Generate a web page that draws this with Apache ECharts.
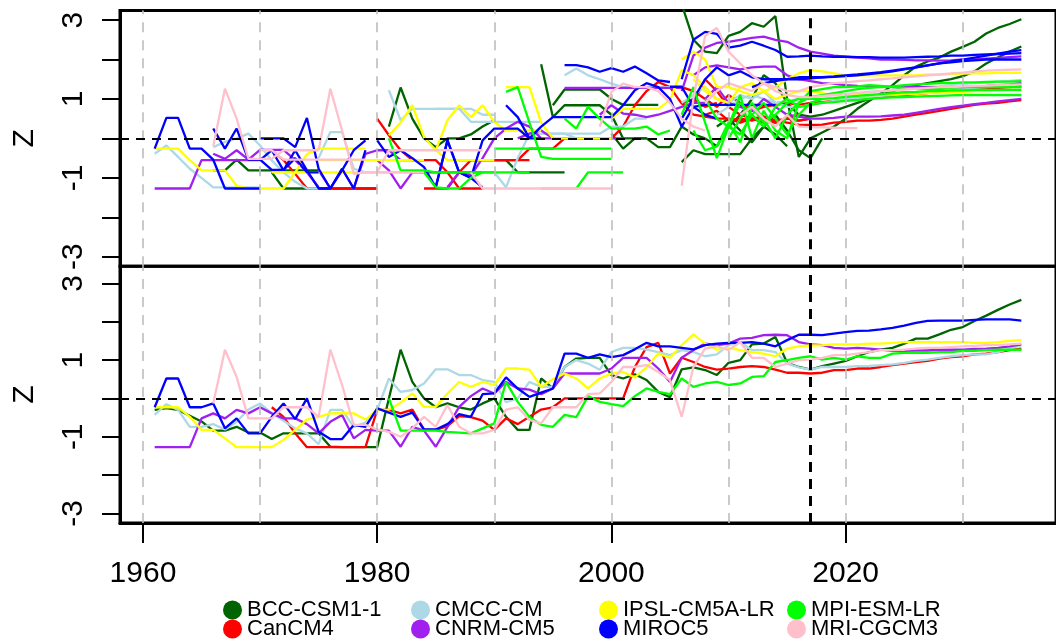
<!DOCTYPE html>
<html>
<head>
<meta charset="utf-8">
<script src="https://cdn.jsdelivr.net/npm/echarts@6/dist/echarts.min.js"></script>
<style>
  html, body { margin: 0; padding: 0; background: #ffffff; }
  #chart { width: 1056px; height: 641px; }
</style>
</head>
<body>
<div id="chart"></div>
<script>
// ---------- labels and ticks ----------
const models = ['BCC-CSM1-1', 'CanCM4', 'CMCC-CM', 'CNRM-CM5', 'IPSL-CM5A-LR', 'MIROC5', 'MPI-ESM-LR', 'MRI-CGCM3'];
const modelColors = ['#006400', '#ff0000', '#add8e6', '#a020f0', '#ffff00', '#0000ff', '#00ff00', '#ffc0cb'];
const xTickLabels = [1960, 1980, 2000, 2020];
const yTickValues = [-3, -2, -1, 0, 1, 2, 3];
const yTickLabels = [-3, -1, 1, 3];
const decadeLines = [1960, 1970, 1980, 1990, 2000, 2010, 2020, 2030];
const forecastYear = 2017;
const yAxisTitle = 'Z';

// ---------- upper panel: individual forecast runs, [start year, yearly values] ----------
const bccRuns = [
  [1966, [-0.81, -0.81, -0.54, -0.81, -0.81, -0.81, -0.81, -0.81, -0.81, -0.81]],
  [1971, [-0.86, -1.27, -1.27, -1.27, -1.27, -1.27, -1.27, -1.27, -1.27, -1.27]],
  [1981, [0.3, 1.29, 0.5, 0.0, -0.22, 0.0, 0.0, 0.1, 0.3, 0.46]],
  [1987, [-0.55, -0.55, -0.55, -0.55, -0.55, -0.86, -0.86, -0.86, -0.86, -0.86]],
  [1994, [1.88, 0.54, 0.84, 0.84, 0.84, 0.84, 0.6, 0.0, 0.0, 0.0]],
  [1995, [0.84, 1.24, 1.24, 1.24, 1.24, 1.0, 0.85, 0.85, 0.85, 0.85]],
  [2000, [0.12, -0.26, 0.0, 0.0, -0.22, -0.22, 0.3, 0.1, 0.0]],
  [2006, [-0.6, -0.3, -0.4, -0.4, -0.4, -0.4, 0.0, 0.3, 0.1, -0.2]],
  [2009, [0.3, 0.5, 0.2, -0.1, 0.3, 0.6, 0.2, -0.3, -0.5, 0.0]],
  [2006, [3.4, 2.5, 2.2, 2.16, 2.6, 2.7, 2.92, 2.83, 3.1, 1.0, -0.47, 0.0, 0.15, 0.3, 0.5, 0.75, 0.95, 1.14, 1.35, 1.6, 1.82, 1.95, 2.05, 2.2, 2.32, 2.45, 2.66, 2.8, 2.9, 3.02]],
  [2008, [0.0, -0.2, 0.3, 0.6, 1.0, 1.6, 1.4, 0.9, 0.6, 0.55, 0.6, 0.7, 0.8, 0.9, 1.0, 1.1, 1.2, 1.28, 1.35, 1.4, 1.45, 1.5, 1.58, 1.7, 1.9, 2.05, 2.2, 2.33]]
];
const canRuns = [
  [1971, [-0.3, -0.55, -0.9, -1.27, -1.27, -1.27, -1.27, -1.27, -1.27, -1.27]],
  [1980, [0.5, 0.08, -0.3, -0.55, -0.55, -0.55, -0.86, -1.27, -1.27, -1.27]],
  [1984, [-1.27, -1.27, -1.27, -0.86, -0.55, -0.55, -0.55, -0.55, -0.55, -0.55]],
  [1990, [-0.55, -0.55, -0.55, -0.26, -0.26, -0.26, 0.0, 0.0, 0.0, 0.0]],
  [2000, [0.0, 0.3, 0.84, 1.2, 1.43, 1.3, 0.88, 1.0, 0.8, 0.9]],
  [2007, [0.9, 1.5, 1.2, 0.8, 0.6, 0.5, 0.55, 0.45, 0.5, 0.6]],
  [2008, [0.6, 0.7, 0.45, 0.5, 0.45, 0.55, 0.4, 0.5, 0.45, 0.5]],
  [2010, [0.5, 0.4, 0.5, 0.45, 0.4, 0.5, 0.45, 0.5]],
  [2006, [1.3, 1.2, 1.0, 0.8, 1.1, 0.9, 0.7, 0.8, 0.85, 0.9, 0.85, 0.9, 0.92, 0.95, 0.97, 1.0, 1.02, 1.05, 1.08, 1.1, 1.12, 1.15, 1.18, 1.2, 1.22, 1.24, 1.26, 1.28, 1.3, 1.32]],
  [2006, [0.9, 0.6, 0.55, 0.5, 0.5, 0.45, 0.5, 0.4, 0.45, 0.4, 0.35, 0.34, 0.35, 0.4, 0.42, 0.45, 0.45, 0.47, 0.5, 0.55, 0.6, 0.65, 0.7, 0.75, 0.8, 0.85, 0.88, 0.9, 0.94, 0.97]]
];
const cmccRuns = [
  [1961, [-0.39, -0.18, -0.47, -0.77, -1.0, -1.24, -1.24, -1.24, -1.24, -1.24]],
  [1966, [-0.22, -0.09, 0.0, 0.12, -0.18, -0.56, -0.86, -1.1, -1.27, -1.27]],
  [1975, [-0.5, 0.16, 0.16, -0.77, -0.86, -0.86, -0.86, -0.86, -0.86, -0.86]],
  [1981, [1.22, 0.46, 0.75, 0.75, 0.75, 0.75, 0.75, 0.75, 0.6, 0.6]],
  [1985, [0.75, 0.75, 0.75, 0.42, 0.42, 0.42, 0.42, 0.42, 0.42, 0.42]],
  [1990, [-0.86, -1.24, -0.5, 0.12, 0.12, 0.12, 0.12, 0.0, 0.0, 0.0]],
  [1994, [0.12, 0.12, 0.12, 0.12, 0.12, 0.12, 0.3, 0.3, 0.5, 0.5]],
  [1996, [1.6, 1.77, 1.6, 1.5, 1.39, 1.3, 1.3, 1.3, 1.3, 1.3]],
  [2006, [0.9, 1.1, 1.3, 1.0, 0.9, 1.1, 1.0, 1.2, 0.9, 0.8, 0.8, 0.85, 0.9, 0.95, 1.0, 1.02, 1.05, 1.08, 1.1, 1.12, 1.15, 1.18, 1.2, 1.22, 1.25, 1.28, 1.3, 1.33, 1.36, 1.4]],
  [2009, [0.6, 0.8, 1.0, 1.1, 1.0, 0.9, 0.95, 1.0, 1.05, 1.08, 1.1, 1.12, 1.15, 1.18, 1.2, 1.22, 1.25, 1.28, 1.3, 1.32, 1.35, 1.38, 1.4, 1.42, 1.44, 1.46, 1.48]]
];
const cnrmRuns = [
  [1961, [-1.27, -1.27, -1.27, -1.27, -0.55, -0.55, -0.55, -0.55, -0.55, -0.55]],
  [1966, [-0.39, -0.52, -0.3, -0.54, -0.29, -0.29, -0.29, -0.55, -0.86, -1.24]],
  [1975, [-0.81, -1.27, -0.77, -1.27, -0.39, -0.3, -0.3, -0.55, -0.55, -0.55]],
  [1980, [-0.55, -0.81, -1.27, -0.86, -0.86, -0.86, -0.86, -0.86, -0.86, -0.86]],
  [1986, [-1.24, -0.86, -0.94, -0.5, 0.0, 0.25, 0.42, 0.3, 0.0, 0.0]],
  [1992, [0.0, 0.12, 0.2, 0.0, 0.0, 0.0, 0.0, 0.0, 0.0, 0.0]],
  [1996, [1.28, 1.28, 1.28, 1.28, 1.28, 1.28, 1.28, 1.28, 1.28, 1.28, 1.28]],
  [1999, [0.6, 0.84, 0.63, 0.6, 0.54, 0.6, 0.7, 0.8, 0.9, 0.9]],
  [2006, [1.2, 2.1, 2.3, 2.42, 2.45, 2.5, 2.55, 2.58, 2.5, 2.45, 2.3, 2.2, 2.15, 2.1, 2.07, 2.05, 2.03, 2.0, 2.0, 1.99, 1.98, 1.98, 1.97, 1.98, 2.0, 2.0, 2.02, 2.04, 2.06, 2.08]],
  [2008, [1.0, 1.3, 0.9, 0.8, 0.7, 1.0, 0.8, 0.6, 0.55, 0.5, 0.5, 0.52, 0.55, 0.55, 0.55, 0.56, 0.58, 0.6, 0.65, 0.7, 0.75, 0.79, 0.83, 0.87, 0.9, 0.94, 0.97, 1.0]],
  [2007, [1.6, 1.8, 1.85, 1.8, 1.75, 1.8, 1.82, 1.82, 1.6, 1.5, 1.45, 1.4, 1.38, 1.35, 1.33, 1.32, 1.32, 1.3, 1.3, 1.3, 1.3, 1.3, 1.3, 1.3, 1.32, 1.33, 1.35, 1.37, 1.4]]
];
const ipslRuns = [
  [1961, [-0.26, -0.26, -0.26, -0.55, -0.81, -0.81, -0.81, -1.2, -1.27, -1.27]],
  [1970, [-1.27, -1.27, -1.27, -0.86, -0.4, -0.26, -0.26, -0.26, -0.26, -0.26]],
  [1971, [-0.86, -0.86, -0.86, -0.86, -0.86, -0.86, -0.86, -0.86, -0.86, -0.86]],
  [1975, [-0.55, -0.55, -0.55, -0.55, -0.55, -0.55, -0.55, -0.55, -0.55, -0.55]],
  [1981, [0.08, 0.4, 0.84, 0.03, -0.3, -0.55, -0.55, -0.55, -0.55, -0.55]],
  [1985, [-0.3, 0.46, 0.84, 0.54, 0.84, 0.42, 0.2, 0.2, 0.2, 0.2]],
  [1991, [1.3, 1.3, 1.3, 0.4, 0.0, 0.0, 0.0, 0.0, 0.0, 0.0]],
  [2000, [0.5, 0.75, 0.75, 0.75, 0.75, 0.97, 1.73, 1.6, 1.3, 1.0]],
  [2006, [2.0, 2.2, 2.0, 1.3, 1.3, 1.2, 1.1, 1.2, 1.3, 1.5, 1.65, 1.73, 1.7, 1.65, 1.6, 1.6, 1.6, 1.6, 1.6, 1.6, 1.6, 1.62, 1.62, 1.63, 1.64, 1.65, 1.65, 1.66, 1.66, 1.66]],
  [2007, [1.5, 1.2, 1.0, 0.9, 1.3, 1.4, 1.2, 1.0, 1.1, 1.2, 1.2, 1.15, 1.1, 1.1, 1.1, 1.1, 1.1, 1.12, 1.12, 1.13, 1.15, 1.15, 1.17, 1.18, 1.2, 1.2, 1.22, 1.23, 1.23]]
];
const mirocRuns = [
  [1961, [-0.26, 0.52, 0.52, -0.26, -0.26, -0.54, -1.27, -1.27, -1.27, -1.27]],
  [1966, [0.25, -0.26, 0.25, -0.54, -0.54, -0.8, -0.8, -0.5, -0.86, -0.86]],
  [1970, [0.0, 0.0, 0.0, -0.22, 0.52, -0.77, -1.27, -0.77, -1.27, -0.3]],
  [1970, [-0.55, -0.3, -0.81, -0.3, -0.81, -1.27, -1.27, -0.81, -0.3, -0.05]],
  [1980, [-0.05, -0.47, -0.3, -0.5, -0.73, -1.24, -0.05, -0.86, -1.0, -1.24]],
  [1985, [-1.24, -0.05, -0.86, -1.0, -0.05, 0.25, 0.25, 0.25, 0.0, 0.0]],
  [1991, [0.84, 0.54, 0.0, 0.3, 0.54, 0.54, 0.54, 0.54, 0.54, 0.54]],
  [1996, [1.86, 1.86, 1.8, 1.69, 1.78, 1.69, 1.82, 1.65, 1.47, 1.43]],
  [2000, [0.54, 0.84, 1.22, 1.4, 1.3, 1.0, 0.3, 0.8, 0.6, 0.5]],
  [2005, [1.31, 1.31, 0.8, 0.85, 0.85, 0.85, 0.85, 0.85, 0.85, 0.85]],
  [2006, [1.5, 2.5, 2.7, 2.65, 2.3, 2.35, 2.45, 2.35, 2.24, 2.07, 2.08, 2.1, 2.08, 2.07, 2.07, 2.06, 2.06, 2.05, 2.05, 2.05, 2.06, 2.07, 2.08, 2.1, 2.1, 2.12, 2.13, 2.14, 2.15, 2.16]],
  [2006, [0.5, 1.0, 1.5, 1.8, 1.6, 1.7, 1.55, 1.5, 1.5, 1.5, 1.55, 1.55, 1.55, 1.56, 1.58, 1.6, 1.63, 1.66, 1.7, 1.75, 1.8, 1.85, 1.9, 1.95, 2.0, 2.05, 2.1, 2.15, 2.2, 2.24]],
  [2012, [1.3, 1.4, 1.45, 1.5, 1.5, 1.52, 1.55, 1.57, 1.6, 1.62, 1.65, 1.68, 1.72, 1.76, 1.8, 1.85, 1.9, 1.93, 1.96, 1.98, 2.0, 2.0, 2.0, 2.0]]
];
const mpiRuns = [
  [1981, [0.0, -0.81, -0.81, -0.81, -0.86, -0.86, -0.86, -0.86, -0.86, -0.86]],
  [1984, [-0.86, -1.24, -1.27, -1.27, -1.0, -0.86, -0.86, -0.86, -0.86, -0.86]],
  [1990, [-0.26, -0.26, -0.26, -0.26, -0.26, -0.26, -0.26, -0.26, -0.26, -0.26, -0.26]],
  [1991, [1.18, 1.3, 0.4, -0.47, -0.52, -0.52, -0.52, -0.52, -0.52, -0.52]],
  [1994, [-1.27, -1.27, -1.27, -1.27, -0.86, -0.86, -0.86, -0.86]],
  [1996, [0.5, 0.25, 0.8, 0.5, 0.25, 0.25, 0.25, 0.3, 0.1, 0.2]],
  [2009, [-0.2, 0.3, 0.1, 0.6, 0.9, 0.5, 0.1, 0.6, 0.9, 1.0]],
  [2006, [0.6, 1.3, 0.4, -0.5, 0.3, 1.1, 0.0, 0.7, 0.2, 0.0, 0.9, 1.05, 1.1, 1.15, 1.2, 1.25, 1.28, 1.3, 1.32, 1.35, 1.37, 1.38, 1.4, 1.4, 1.42, 1.42, 1.43, 1.44, 1.44, 1.45]],
  [2007, [0.2, -0.3, -0.2, 0.4, -0.1, 0.8, 0.4, 0.6, 0.9, 1.0, 1.0, 1.0, 1.02, 1.05, 1.08, 1.1, 1.12, 1.15, 1.17, 1.18, 1.2, 1.2, 1.22, 1.22, 1.23, 1.23, 1.23, 1.23, 1.23]],
  [2008, [1.0, 0.5, 0.3, 0.9, 0.6, 0.3, 0.8, 1.0, 0.8, 0.85, 0.9, 0.92, 0.95, 0.97, 1.0, 1.02, 1.04, 1.05, 1.06, 1.07, 1.08, 1.09, 1.1, 1.1, 1.1, 1.1, 1.1, 1.1]],
  [2010, [0.0, 0.5, 0.9, 0.5, 0.0, 0.6, 0.9, 1.2, 1.25, 1.3, 1.3, 1.32, 1.35, 1.33, 1.3, 1.28, 1.27, 1.25, 1.25, 1.28, 1.3, 1.3, 1.3, 1.3, 1.3, 1.3]]
];
const mriRuns = [
  [1966, [-0.2, 1.26, 0.5, -0.52, -0.52, -0.52, -0.3, -0.3, -0.3, -0.3]],
  [1970, [-0.3, -0.3, -0.54, -0.54, -0.54, -0.54, -0.54, -0.54, -0.54, -0.54]],
  [1975, [-0.3, 1.26, 0.2, -0.9, -0.86, -0.86, -0.86, -0.86, -0.86, -0.86]],
  [1980, [-0.86, -0.3, -0.3, -0.3, -0.3, -0.3, -0.3, -0.3, -0.3, -0.3]],
  [1988, [-0.86, -1.27, -1.27, -1.27, -1.27, -1.27, -1.27, -1.27, -1.27, -1.27]],
  [1994, [-1.27, -1.27, -1.27, -1.27, -1.27, -1.27, -1.27]],
  [1999, [0.3, 1.18, 1.39, 1.3, 1.3, 1.2, 0.9, 0.5, 0.3, 0.2]],
  [2006, [-1.2, 1.0, 2.6, 2.8, 2.2, 1.9, 1.6, 1.4, 1.3, 1.2, 1.2, 1.3, 1.35, 1.4, 1.42, 1.45, 1.47, 1.5, 1.52, 1.55, 1.57, 1.6, 1.62, 1.65, 1.67, 1.7, 1.72, 1.73, 1.74, 1.75]],
  [2011, [0.6, 0.8, 0.5, 0.3, 0.6, 0.3, 0.28, 0.28, 0.27, 0.26, 0.26]],
  [2008, [0.9, 1.2, 1.4, 1.3, 1.2, 1.4, 1.2, 1.1, 1.05, 1.05, 1.08, 1.1, 1.12, 1.15, 1.17, 1.2, 1.22, 1.24, 1.26, 1.28, 1.3, 1.3, 1.32, 1.33, 1.34, 1.35, 1.36, 1.37]]
];

// ---------- lower panel: combined series, one value per year from 1961 to 2035 ----------
const firstYear = 1961;
const bccSeries = [
  -0.3, -0.25, -0.3, -0.45, -0.6, -0.84, -0.84, -0.74, -0.89, -0.89,
  -1.06, -0.91, -0.91, -0.91, -0.91, -1.26, -1.27, -1.27, -1.27, -1.27,
  0.0, 1.27, 0.43, 0.0, -0.23, -0.13, -0.23, -0.29, -0.13, 0.0,
  -0.48, -0.82, -0.82, 0.52, 0.26, 0.82, 1.04, 1.06, 1.06, 0.61,
  0.52, 0.63, 0.48, 0.17, 0.03, 0.76, 0.81, 0.74, 0.61, 0.93,
  1.0, 1.41, 1.43, 1.6, 0.93, 0.82, 0.75, 0.84, 0.91, 0.98,
  1.1, 1.21, 1.27, 1.32, 1.43, 1.56, 1.56, 1.67, 1.79, 1.86,
  2.02, 2.16, 2.31, 2.45, 2.57
];
const canSeries = [
  null, null, null, null, null, null, null, null, null, null,
  -0.23, -0.48, -0.91, -1.27, -1.27, -1.27, -1.27, -1.27, -1.27, -0.3,
  -0.3, -0.39, -0.29, -0.82, -0.82, -0.72, -0.46, -0.49, -0.58, -0.82,
  -0.52, -0.67, -0.48, -0.29, -0.23, 0.0, 0.0, 0.0, 0.0, 0.0,
  0.0, 0.82, 1.34, 1.45, 0.65, 1.06, 0.95, 0.82, 0.75, 0.78,
  0.82, 0.84, 0.82, 0.75, 0.67, 0.67, 0.65, 0.67, 0.74, 0.74,
  0.78, 0.78, 0.82, 0.87, 0.91, 0.95, 0.98, 1.04, 1.08, 1.1,
  1.15, 1.17, 1.21, 1.26, 1.3
];
const cmccSeries = [
  -0.43, -0.15, -0.3, -0.74, -0.74, -0.67, -0.81, -0.61, -0.29, -0.13,
  -0.39, -0.58, -0.78, -0.91, -1.19, -0.3, -0.3, -0.74, -0.63, -0.3,
  0.52, 0.17, 0.22, 0.39, 0.76, 0.76, 0.61, 0.61, 0.48, 0.43,
  -0.1, 0.0, 0.43, 0.3, 0.3, 0.82, 1.0, 0.91, 0.75, 1.21,
  1.32, 1.32, 1.27, 1.21, 1.13, 1.26, 1.21, 1.1, 1.15, 1.39,
  1.47, 1.26, 1.26, 1.21, 0.91, 0.81, 0.75, 0.82, 0.82, 0.82,
  0.84, 0.85, 0.87, 0.89, 0.93, 0.98, 1.01, 1.06, 1.1, 1.13,
  1.15, 1.15, 1.21, 1.3, 1.39
];
const cnrmSeries = [
  -1.27, -1.27, -1.27, -1.27, -0.52, -0.39, -0.52, -0.3, -0.39, -0.23,
  -0.39, -0.52, -0.52, -0.67, -0.91, -0.61, -0.43, -1.04, -0.82, -0.84,
  -0.84, -1.26, -0.74, -0.84, -1.26, -0.74, -0.22, 0.06, 0.26, 0.13,
  0.43, 0.26, 0.23, 0.11, 0.26, 0.65, 0.65, 0.65, 0.65, 0.78,
  1.06, 1.06, 1.06, 0.78, 0.43, 1.06, 1.26, 1.43, 1.39, 1.43,
  1.56, 1.58, 1.65, 1.66, 1.65, 1.47, 1.41, 1.39, 1.32, 1.3,
  1.32, 1.3, 1.27, 1.24, 1.24, 1.25, 1.25, 1.27, 1.27, 1.27,
  1.29, 1.3, 1.32, 1.36, 1.41
];
const ipslSeries = [
  -0.23, -0.23, -0.23, -0.48, -0.82, -0.82, -1.04, -1.27, -1.27, -1.27,
  -1.27, -1.08, -0.82, -0.55, -0.48, -0.39, -0.38, -0.39, -0.55, -0.3,
  -0.29, -0.11, 0.13, -0.22, -0.22, 0.13, 0.43, 0.3, 0.43, 0.35,
  0.78, 0.78, 0.75, 0.3, 0.5, 0.65, 0.52, 0.26, 0.52, 0.65,
  0.69, 0.55, 0.81, 1.17, 1.06, 1.39, 1.67, 1.43, 1.27, 1.32,
  1.26, 1.21, 1.17, 1.1, 1.3, 1.36, 1.38, 1.39, 1.41, 1.41,
  1.41, 1.43, 1.43, 1.45, 1.47, 1.47, 1.47, 1.47, 1.47, 1.47,
  1.45, 1.45, 1.47, 1.5, 1.52
];
const mirocSeries = [
  -0.23, 0.52, 0.52, -0.23, -0.23, -0.13, -0.78, -0.52, -0.91, -0.91,
  -0.48, -0.13, -0.54, 0.0, -0.87, -1.06, -1.06, -0.69, -0.74, -0.26,
  -0.37, -0.48, -0.37, -0.81, -0.81, -0.67, -0.41, -0.48, 0.11, 0.13,
  0.55, 0.26, 0.04, 0.15, 0.26, 1.17, 1.17, 1.06, 1.15, 1.08,
  1.13, 1.28, 1.45, 1.36, 1.36, 1.32, 1.28, 1.39, 1.43, 1.45,
  1.45, 1.47, 1.43, 1.36, 1.52, 1.66, 1.66, 1.65, 1.69, 1.73,
  1.76, 1.77, 1.8, 1.84, 1.9, 1.97, 2.02, 2.03, 2.03, 2.03,
  2.05, 2.06, 2.06, 2.06, 2.03
];
const mpiSeries = [
  null, null, null, null, null, null, null, null, null, null,
  null, null, null, null, null, null, null, null, null, null,
  0.0, -0.84, -0.84, -0.84, -0.84, -0.87, -0.89, -0.91, -0.78, -0.65,
  0.43, -0.09, -0.48, -0.69, -0.74, -0.43, -0.49, 0.06, -0.09, -0.15,
  -0.2, 0.06, 0.26, 0.17, 0.11, 0.52, 0.3, 0.39, 0.43, 0.35,
  0.39, 0.56, 0.58, 0.95, 1.0, 1.06, 1.1, 1.01, 1.06, 1.01,
  1.1, 1.06, 1.06, 1.17, 1.19, 1.19, 1.19, 1.21, 1.21, 1.24,
  1.24, 1.26, 1.27, 1.27, 1.27
];
const mriSeries = [
  null, null, null, null, null, -0.13, 1.27, 0.56, -0.52, -0.52,
  -0.52, -0.23, -0.23, -0.23, -0.48, 1.27, 0.35, -0.69, -0.69, -0.81,
  -0.87, -1.0, -0.78, -0.48, -0.74, -0.17, -0.74, -0.91, -0.91, -0.82,
  -0.29, -0.23, -0.56, -0.65, -0.23, -0.23, -0.23, 0.11, 0.13, 0.43,
  0.82, 0.82, 0.87, 0.69, 0.48, -0.48, 0.82, 1.3, 1.36, 1.26,
  1.47, 1.06, 1.06, 0.82, 0.91, 1.0, 1.01, 1.06, 1.13, 1.13,
  1.17, 1.21, 1.26, 1.26, 1.27, 1.3, 1.32, 1.32, 1.34, 1.36,
  1.37, 1.39, 1.39, 1.41, 1.43
];

const upperRuns = [bccRuns, canRuns, cmccRuns, cnrmRuns, ipslRuns, mirocRuns, mpiRuns, mriRuns];
const lowerSeries = [bccSeries, canSeries, cmccSeries, cnrmSeries, ipslSeries, mirocSeries, mpiSeries, mriSeries];

// ---------- chart ----------
const FONT = 'Liberation Sans, Arial, Helvetica, sans-serif';
const X_MIN = 1958.04, X_MAX = 2037.96;

function lineStyleFor(i) {
  return {
    type: 'line',
    name: models[i],
    showSymbol: false,
    symbol: 'none',
    silent: true,
    z: 2,
    itemStyle: { color: modelColors[i] },
    lineStyle: { color: modelColors[i], width: 2.3 },
    emphasis: { disabled: true }
  };
}

function guideSeries(gridIdx, z, lines, style) {
  return {
    type: 'line',
    xAxisIndex: gridIdx,
    yAxisIndex: gridIdx,
    data: [],
    silent: true,
    z: z,
    markLine: {
      silent: true,
      symbol: ['none', 'none'],
      label: { show: false },
      emphasis: { disabled: true },
      animation: false,
      lineStyle: style,
      data: lines
    }
  };
}

const series = [];
[0, 1].forEach(g => {
  series.push(guideSeries(g, 1, decadeLines.map(v => ({ xAxis: v })),
    { color: '#bdbdbd', type: [10, 8], width: 1.6 }));
});

upperRuns.forEach((runs, i) => {
  runs.forEach(([start, vals]) => {
    series.push(Object.assign(lineStyleFor(i), {
      xAxisIndex: 0, yAxisIndex: 0,
      data: vals.map((v, k) => [start + k, v])
    }));
  });
});

lowerSeries.forEach((vals, i) => {
  const pts = [];
  vals.forEach((v, k) => { if (v !== null) pts.push([firstYear + k, v]); });
  series.push(Object.assign(lineStyleFor(i), { xAxisIndex: 1, yAxisIndex: 1, data: pts }));
});

[0, 1].forEach(g => {
  series.push(guideSeries(g, 3, [{ yAxis: 0 }],
    { color: '#000000', type: [9, 7], width: 2 }));
  series.push(guideSeries(g, 3, [{ xAxis: forecastYear }],
    { color: '#000000', type: [10, 7], width: 3 }));
});

function yAxisFor(gridIdx, min, max) {
  return {
    type: 'value',
    gridIndex: gridIdx,
    min: min,
    max: max,
    name: yAxisTitle,
    nameLocation: 'middle',
    nameRotate: 90,
    nameGap: 80,
    nameTextStyle: { fontSize: 30, color: '#000', fontFamily: FONT },
    axisLine: { show: true, onZero: false, lineStyle: { color: '#000', width: 3 } },
    axisTick: { show: true, customValues: yTickValues, length: 18, lineStyle: { color: '#000', width: 2 } },
    axisLabel: { show: true, customValues: yTickLabels, rotate: 90, margin: 31, fontSize: 30, color: '#000', fontFamily: FONT },
    splitLine: { show: false }
  };
}

function legendFor(i, left, top) {
  return {
    data: [{ name: models[i], icon: 'circle' }],
    left: left,
    top: top,
    padding: 0,
    itemWidth: 19,
    itemHeight: 19,
    selectedMode: false,
    textStyle: { fontSize: 22, lineHeight: 22, color: '#000', fontFamily: FONT }
  };
}

const option = {
  animation: false,
  backgroundColor: '#ffffff',
  grid: [
    { left: 120, top: 10.6, width: 946, height: 255.6, show: true, borderColor: '#000', borderWidth: 3, backgroundColor: 'transparent' },
    { left: 120, top: 266.2, width: 946, height: 256.8, show: true, borderColor: '#000', borderWidth: 3, backgroundColor: 'transparent' }
  ],
  xAxis: [
    { type: 'value', gridIndex: 0, min: X_MIN, max: X_MAX, show: false, splitLine: { show: false } },
    {
      type: 'value', gridIndex: 1, min: X_MIN, max: X_MAX,
      axisLine: { show: true, onZero: false, lineStyle: { color: '#000', width: 3 } },
      axisTick: { show: true, customValues: xTickLabels, length: 20, lineStyle: { color: '#000', width: 2 } },
      axisLabel: {
        show: true, customValues: xTickLabels, margin: 36, fontSize: 30, color: '#000', fontFamily: FONT,
        formatter: v => String(v)
      },
      splitLine: { show: false }
    }
  ],
  yAxis: [yAxisFor(0, -3.24, 3.24), yAxisFor(1, -3.248, 3.448)],
  legend: [
    legendFor(0, 223, 599), legendFor(1, 223, 618),
    legendFor(2, 411, 599), legendFor(3, 411, 618),
    legendFor(4, 599, 599), legendFor(5, 599, 618),
    legendFor(6, 787, 599), legendFor(7, 787, 618)
  ],
  series: series
};

const chart = echarts.init(document.getElementById('chart'), null, { renderer: 'canvas' });
chart.setOption(option);
</script>
</body>
</html>
